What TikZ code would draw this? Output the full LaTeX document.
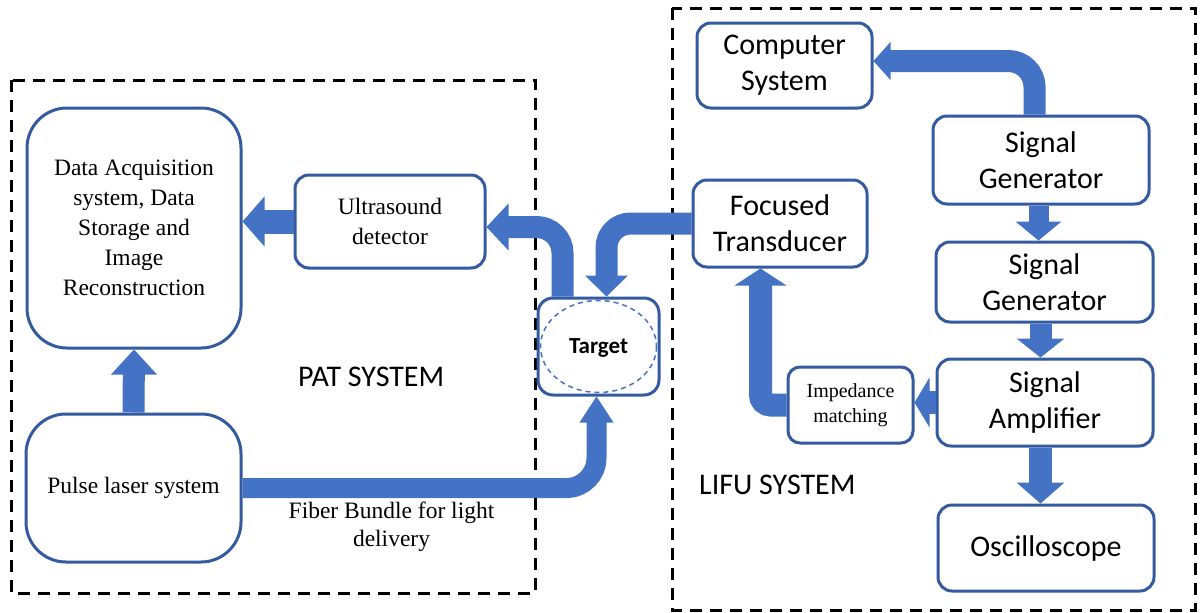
\documentclass[tikz,border=0pt]{standalone}
\usepackage{fontspec}
\setmainfont{Liberation Serif}
\newfontfamily\carl{Carlito}
\definecolor{bord}{RGB}{52,90,160}
\definecolor{afill}{RGB}{68,114,196}
\begin{document}
\begin{tikzpicture}[x=1pt,y=-1pt,
  box/.style={draw=bord, line width=3pt, fill=white, rounded corners=#1, align=center, inner sep=0pt, text=black},
  box/.default=14pt,
  tms/.style={font=\fontsize{23.5}{30}\selectfont},
  sans/.style={font=\carl\fontsize{30}{36}\selectfont},
  shaft/.style={draw=afill, line width=#1},
  head/.style={fill=afill},
  sysbox/.style={draw=black, line width=3pt, dash pattern=on 12pt off 8pt}
]
\useasboundingbox (0,0) rectangle (1200,613);
\fill[white] (0,0) rectangle (1200,613);

% system frames
\draw[sysbox] (11,80) rectangle (535,593);
\draw[sysbox] (672,8) rectangle (1195,610);

% PAT nodes
\node[box=40pt, tms, minimum width=214pt, minimum height=240pt] (daq) at (134,228)
  {Data Acquisition\\system, Data\\Storage and\\Image\\Reconstruction};
\node[box, tms, minimum width=190pt, minimum height=93pt] (us) at (390,221.5)
  {Ultrasound\\detector};
\node[box=40pt, tms, minimum width=215pt, minimum height=148pt] (pulse) at (133.5,488)
  {Pulse laser system};
\node[box=15pt, minimum width=121pt, minimum height=97pt, text depth=0pt,
  font=\carl\bfseries\fontsize{23}{27}\selectfont] (tgt) at (598.5,346.5) {Target};

% LIFU nodes
\node[box, sans, minimum width=175pt, minimum height=85pt] (comp) at (784.5,65.5) {Computer\\System};
\node[box, sans, minimum width=174pt, minimum height=87pt] (foc) at (780,223.5) {Focused\\Transducer};
\node[box, sans, minimum width=216pt, minimum height=88pt] (sg1) at (1041,160) {Signal\\Generator};
\node[box, sans, minimum width=217pt, minimum height=80pt] (sg2) at (1044.5,282) {Signal\\Generator};
\node[box, sans, minimum width=216pt, minimum height=87pt] (amp) at (1045,402.5) {Signal\\Amplifier};
\node[box=12pt, font=\fontsize{20}{25}\selectfont, minimum width=125pt, minimum height=76pt] (imp) at (850.5,405) {Impedance\\matching};
\node[box, sans, minimum width=216pt, minimum height=86pt] (osc) at (1046,548) {Oscilloscope};

% target dashed ellipse
\draw[afill, line width=1.5pt, dash pattern=on 5pt off 4pt] (tgt.center) ellipse [x radius=58, y radius=46];

% labels
\node[sans, anchor=base west, inner sep=0pt] (patlbl) at (298,386) {PAT SYSTEM};
\node[sans, anchor=base west, inner sep=0pt] (lifulbl) at (699,494) {LIFU SYSTEM};
\node[font=\fontsize{23.5}{28}\selectfont, align=center, anchor=north, inner sep=0pt] (fiber) at (391.5,502)
  {Fiber Bundle for light\\delivery};

% 1 US -> DAQ
\coordinate (t1) at (daq.east |- us.west);
\draw[shaft=24pt, shorten >=20pt] (us.west) -- (t1);
\fill[head] (t1) -- ++(22,-25) -- ++(0,50) -- cycle;

% 2 Pulse -> DAQ
\draw[shaft=22pt, shorten >=23pt] (pulse.north) -- (daq.south);
\fill[head] (daq.south) -- ++(-23,25) -- ++(46,0) -- cycle;

% 3 Fiber bundle: Pulse -> Target
\coordinate (t3) at ([xshift=-2pt]tgt.south);
\draw[shaft=20pt, rounded corners=30pt, shorten >=24pt] (pulse.east) -| (t3);
\fill[head] (t3) -- ++(-17,26) -- ++(34,0) -- cycle;

% 4 Target -> US
\coordinate (t4) at ([yshift=-5.5pt]us.east);
\draw[shaft=22pt, rounded corners=26pt, shorten >=20pt] ([xshift=-36pt]tgt.north) |- (t4);
\fill[head] (t4) -- ++(22,-23.5) -- ++(0,47) -- cycle;

% 5 Focused -> Target
\coordinate (t5) at ([xshift=8pt]tgt.north);
\draw[shaft=22pt, rounded corners=24pt, shorten >=19pt] (foc.west) -| (t5);
\fill[head] (t5) -- ++(-21.5,-21) -- ++(43,0) -- cycle;

% 6 Amp -> Impedance
\coordinate (t6) at (imp.east |- amp.west);
\draw[shaft=23pt, shorten >=13pt] (amp.west) -- (t6);
\fill[head] (t6) -- ++(15,-25) -- ++(0,50) -- cycle;

% 7 Impedance -> Focused
\coordinate (t7) at ([xshift=-19.5pt]foc.south);
\draw[shaft=23pt, rounded corners=10pt, shorten >=15pt] (imp.west) -| (t7);
\fill[head] (t7) -- ++(-26,17) -- ++(52,0) -- cycle;

% 8 SG1 -> Computer
\coordinate (t8) at ([yshift=4.5pt]comp.east);
\draw[shaft=22pt, rounded corners=26pt, shorten >=15pt] ([xshift=-6.5pt]sg1.north) |- (t8);
\fill[head] (t8) -- ++(17,-19) -- ++(0,38) -- cycle;

% 9 SG1 -> SG2
\coordinate (t9) at ([xshift=-6pt]sg2.north);
\draw[shaft=20pt, shorten >=17pt] (t9 |- sg1.south) -- (t9);
\fill[head] (t9) -- ++(-23,-19) -- ++(46,0) -- cycle;

% 10 SG2 -> Amp
\coordinate (t10) at ([xshift=-4.5pt]amp.north);
\draw[shaft=22pt, shorten >=18pt] (t10 |- sg2.south) -- (t10);
\fill[head] (t10) -- ++(-24,-19) -- ++(48,0) -- cycle;

% 11 Amp -> Oscilloscope
\coordinate (t11) at ([xshift=-5.5pt]osc.north);
\draw[shaft=23pt, shorten >=20pt] (t11 |- amp.south) -- (t11);
\fill[head] (t11) -- ++(-24,-21) -- ++(48,0) -- cycle;
\end{tikzpicture}
\end{document}
